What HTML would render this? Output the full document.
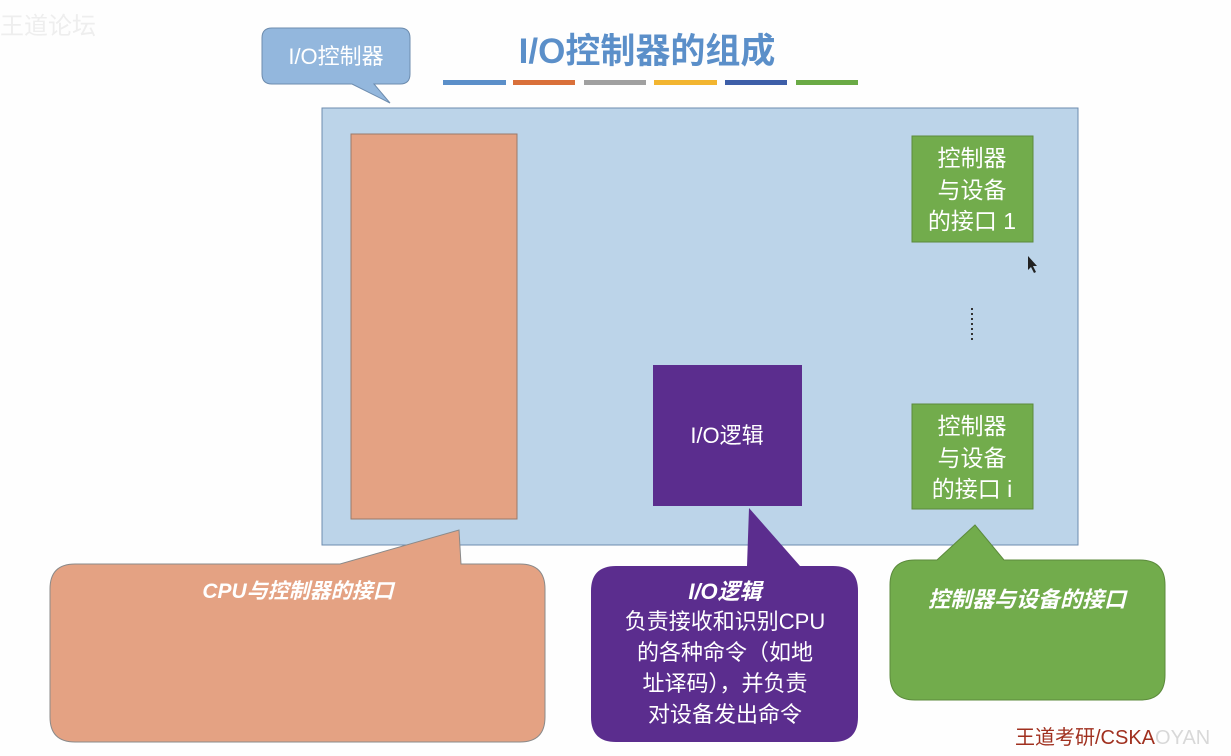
<!DOCTYPE html>
<html><head><meta charset="utf-8"><style>
html,body{margin:0;padding:0;background:#fff;}
svg{display:block;font-family:"Liberation Sans","Noto Sans CJK SC",sans-serif;}
</style></head><body>
<svg width="1231" height="756" viewBox="0 0 1231 756" xmlns="http://www.w3.org/2000/svg">
<rect width="1231" height="756" fill="#fefefe"/>
<text x="0" y="34" font-size="24" fill="#eeeeee">王道论坛</text>
<text x="647" y="63" font-size="35" font-weight="bold" fill="#5b8fc9" text-anchor="middle">I/O控制器的组成</text>
<rect x="443" y="80" width="63" height="5" fill="#5b8fc9"/>
<rect x="513" y="80" width="62" height="5" fill="#d9703a"/>
<rect x="584" y="80" width="62" height="5" fill="#a0a0a0"/>
<rect x="654" y="80" width="63" height="5" fill="#f2b530"/>
<rect x="725" y="80" width="62" height="5" fill="#3d5ea8"/>
<rect x="796" y="80" width="62" height="5" fill="#6aaa45"/>
<path d="M272,28 H400 Q410,28 410,38 V74 Q410,84 400,84 H374 L390,103 L352,84 H272 Q262,84 262,74 V38 Q262,28 272,28 Z" fill="#93b7dd" stroke="#6d8cae" stroke-width="1"/>
<text x="336" y="64" font-size="22" fill="#fff" text-anchor="middle">I/O控制器</text>
<rect x="322" y="108" width="756" height="437" fill="#bcd4e9" stroke="#6d8cae" stroke-width="1"/>
<rect x="351" y="134" width="166" height="385" fill="#e4a283" stroke="#9a7a6a" stroke-width="1"/>
<rect x="653" y="365" width="149" height="141" fill="#5b2d8e"/>
<text x="727" y="443" font-size="22" fill="#fff" text-anchor="middle">I/O逻辑</text>
<rect x="912" y="136" width="121" height="106" fill="#72ac4c" stroke="#5c8a3c"/>
<text font-size="23" fill="#fff" text-anchor="middle"><tspan x="972" y="166">控制器</tspan><tspan x="972" y="198">与设备</tspan><tspan x="972" y="229">的接口 1</tspan></text>
<rect x="912" y="404" width="121" height="105" fill="#72ac4c" stroke="#5c8a3c"/>
<text font-size="23" fill="#fff" text-anchor="middle"><tspan x="972" y="434">控制器</tspan><tspan x="972" y="466">与设备</tspan><tspan x="972" y="497">的接口 i</tspan></text>
<line x1="972" y1="308" x2="972" y2="342" stroke="#333" stroke-width="2" stroke-dasharray="2,3"/>
<path d="M1028,256 L1028,270 L1031,267 L1034,273 L1036,272 L1033,266 L1037,266 Z" fill="#222"/>
<path d="M75,564 H340 L459,530 L461,564 H520 Q545,564 545,589 V717 Q545,742 520,742 H75 Q50,742 50,717 V589 Q50,564 75,564 Z" fill="#e4a283" stroke="#8a8a8a" stroke-width="1"/>
<text x="298" y="598" font-size="21" font-weight="bold" font-style="italic" fill="#fff" text-anchor="middle">CPU与控制器的接口</text>
<path d="M616,566 H747 L749,508 L800,566 H833 Q858,566 858,591 V717 Q858,742 833,742 H616 Q591,742 591,717 V591 Q591,566 616,566 Z" fill="#5b2d8e"/>
<text font-size="22" fill="#fff" text-anchor="middle"><tspan x="725" y="599" font-weight="bold" font-style="italic">I/O逻辑</tspan><tspan x="725" y="629">负责接收和识别CPU</tspan><tspan x="725" y="660">的各种命令（如地</tspan><tspan x="725" y="691">址译码），并负责</tspan><tspan x="725" y="722">对设备发出命令</tspan></text>
<path d="M915,560 H937 L975,525 L1004,560 H1140 Q1165,560 1165,585 V675 Q1165,700 1140,700 H915 Q890,700 890,675 V585 Q890,560 915,560 Z" fill="#72ac4c" stroke="#5c8a3c" stroke-width="1"/>
<text x="1027" y="607" font-size="22" font-weight="bold" font-style="italic" fill="#fff" text-anchor="middle">控制器与设备的接口</text>
<text x="1015" y="744" font-size="20" fill="#a0301f">王道考研/CSKA<tspan fill="#d8d8d8">OYAN</tspan></text>
</svg>
</body></html>
